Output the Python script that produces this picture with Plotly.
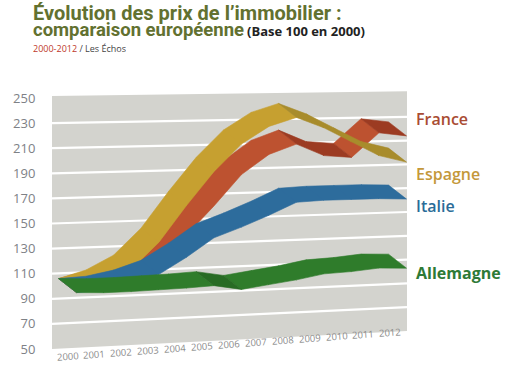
import plotly.graph_objects as go

# ---------------- data (Base 100 en 2000) ----------------
years = list(range(2000, 2013))
france = [100, 105, 113, 125, 143, 166, 191, 207, 215, 205, 203, 223, 220]
espagne = [100, 106, 117, 138, 167, 194, 216, 230, 237, 228, 216, 204, 198]
italie = [100, 101, 105, 112, 125, 140, 148, 157, 167, 168, 168, 168, 167]
allemagne = [100, 99, 99, 99.5, 100, 101, 97, 100, 103, 107, 108, 110, 109]
y_ticks = [50, 70, 90, 110, 130, 150, 170, 190, 210, 230, 250]
year_labels = [str(y) for y in years]

# ---------------- geometry / style ----------------
W, H = 511, 377
PL, PR, PT, PB = 52, 407, 85, 370     # plot area in page pixels
L, R, T, B = PL, W - PR, PT, H - PB
PXY = 27.5                            # px per year
PXU = 1.255                           # px per index unit
X0 = 2000 - (67.5 - PL) / PXY         # left edge (years)
X1 = X0 + (PR - PL) / PXY             # right edge
YMAX = 250 + (98 - PT) / PXU
YMIN = 250 - (PB - 98) / PXU


def frac(x):
    return (x - X0) / (X1 - X0)


def tilt(v):
    # perspective: lines rise towards the right, more at the bottom
    return (5 + 0.065 * (250 - v)) / PXU


def screen(x, v):
    return v + tilt(v) * frac(x)


DX = 9.0 / PXY
DY = 7.0 / PXU

fig = go.Figure()

# back wall
top_g, bot_g = 251.5, 50
fig.add_trace(go.Scatter(
    x=[X0, X1, X1, X0, X0],
    y=[screen(X0, top_g), screen(X1, top_g), screen(X1, bot_g), screen(X0, bot_g), screen(X0, top_g)],
    fill="toself", fillcolor="#d3d3ce", line=dict(width=0), mode="lines",
    hoverinfo="skip", showlegend=False))

# grid lines
for g in y_ticks[1:-1]:
    fig.add_trace(go.Scatter(
        x=[X0, X1], y=[screen(X0, g), screen(X1, g)], mode="lines",
        line=dict(color="white", width=2.2), hoverinfo="skip", showlegend=False))


def ribbon(values, light, dark):
    groups = {light: ([], []), dark: ([], [])}
    for i in range(len(years) - 1):
        xa, xb = years[i], years[i + 1]
        ya, yb = screen(xa, values[i]), screen(xb, values[i + 1])
        col = dark if values[i + 1] < values[i] - 1 else light
        xs, ys = groups[col]
        xs += [xa - DX, xb - DX, xb + DX, xa + DX, xa - DX, None]
        ys += [ya + DY, yb + DY, yb - DY, ya - DY, ya + DY, None]
    for col, (xs, ys) in groups.items():
        if xs:
            fig.add_trace(go.Scatter(
                x=xs, y=ys, fill="toself", fillcolor=col, mode="lines",
                line=dict(color=col, width=0.6), hoverinfo="skip", showlegend=False))


ribbon(france, "#bd5230", "#9c3b22")
ribbon(espagne, "#c6a030", "#a88c2c")
ribbon(italie, "#2d6c9c", "#245b86")
ribbon(allemagne, "#2f7c2b", "#286b24")


def px_to_paper(px, py):
    return (px - L) / (W - L - R), 1 - (py - T) / (H - T - B)


ann = []
# series labels
for name, py, col, wt in [("France", 119, "#a94c33", 600), ("Espagne", 174, "#c4983a", 600),
                          ("Italie", 206, "#2a6c98", 600), ("Allemagne", 273, "#2e7a36", 700)]:
    x, y = px_to_paper(414, py)
    ann.append(dict(text=name, x=x, y=y, xref="paper", yref="paper", xanchor="left",
                    yanchor="middle", showarrow=False,
                    font=dict(family="Open Sans", size=16, color=col, weight=wt)))

# year labels along the tilted floor
for yr, lab in zip(years, year_labels):
    pxc = 67.5 + PXY * (yr - 2000) - 0.6 * (yr - 2000)
    pyc = 357 - 24 * (pxc - 67) / 323
    x, y = px_to_paper(pxc, pyc)
    ann.append(dict(text=lab, x=x, y=y, xref="paper", yref="paper", xanchor="center",
                    yanchor="middle", showarrow=False, textangle=-4,
                    font=dict(family="Open Sans", size=9.5, color="#8a8a8a")))

# title block (one text, tight line spacing from a small base font)
title_html = ("<b><span style='font-size:20px'>Évolution des prix de l’immobilier :</span></b><br>"
              "<b><span style='font-size:18.5px'>comparaison européenne</span></b> "
              "<b><span style='font-size:13px;color:#222222;font-family:Open Sans'>(Base 100 en 2000)</span></b>")
x, y = px_to_paper(31, 21.5)
ann.append(dict(text=title_html, x=x, y=y, xref="paper", yref="paper", align="left",
                xanchor="left", yanchor="middle", showarrow=False,
                font=dict(family="Roboto, Liberation Sans, sans-serif", size=12, color="#627130")))
x, y = px_to_paper(31, 48)
ann.append(dict(text="<span style='color:#c0392b'>2000-2012</span> / Les Échos", x=x, y=y,
                xref="paper", yref="paper", xanchor="left", yanchor="middle", showarrow=False,
                height=11, font=dict(family="Open Sans", size=9, color="#444444")))

fig.update_layout(
    width=W, height=H, margin=dict(l=L, r=R, t=T, b=B, autoexpand=False),
    paper_bgcolor="white", plot_bgcolor="white",
    xaxis=dict(range=[X0, X1], visible=False, fixedrange=True),
    yaxis=dict(range=[YMIN, YMAX], tickvals=y_ticks, ticktext=[str(v) for v in y_ticks],
               showgrid=False, zeroline=False, showline=False, ticks="outside", ticklen=13,
               tickcolor="rgba(0,0,0,0)", automargin=False, fixedrange=True,
               tickfont=dict(family="Open Sans", size=13, color="#7e8186")),
    annotations=ann, showlegend=False,
)

fig.write_html("out.html", config={"displayModeBar": False, "staticPlot": True},
               post_script="document.body.style.margin='0px';")
